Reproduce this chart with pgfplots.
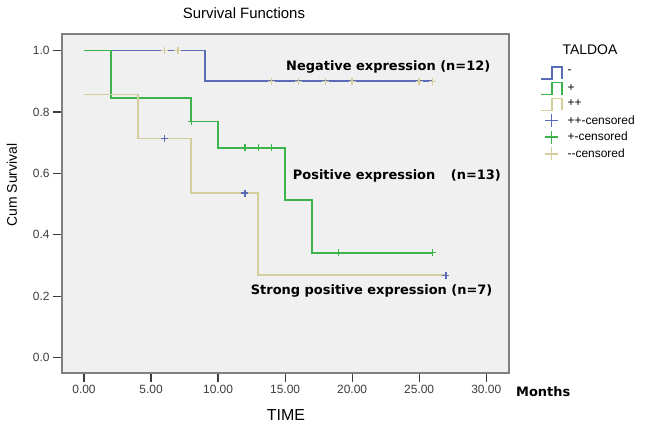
\documentclass[border=0pt]{standalone}
\usepackage{pgfplots}
\pgfplotsset{compat=1.18}
\usepackage{fontspec}
\setmainfont{Liberation Sans}
\newfontfamily\verd{DejaVu Sans}
\definecolor{cblue}{RGB}{90,108,184}
\definecolor{cgreen}{RGB}{60,180,75}
\definecolor{ctan}{RGB}{212,206,156}
\definecolor{bg}{RGB}{240,240,240}
\definecolor{framec}{RGB}{128,128,128}
\definecolor{tickc}{RGB}{60,60,60}
\pgfplotsset{
 stepimg/.style={legend image code/.code={\draw[#1,line width=1.4pt] (0bp,-6bp)--(11bp,-6bp)--(11bp,6bp)--(21bp,6bp)--(21bp,-6bp);}},
 crossimg/.style={legend image code/.code={\draw[#1,line width=1.4pt] (4bp,0bp)--(17bp,0bp) (10.5bp,-6.5bp)--(10.5bp,6.5bp);}},
}
\begin{document}
\begin{tikzpicture}
\useasboundingbox (0,0) rectangle (646bp,-429bp);
\begin{axis}[
 at={(62bp,-373bp)}, anchor=south west,
 scale only axis, width=447bp, height=339bp,
 xmin=-1.64, xmax=31.7, ymin=-0.05, ymax=1.054,
 axis background/.style={fill=bg},
 axis line style={draw=framec, line width=1.3pt},
 xtick={0,5,10,15,20,25,30}, ytick={0,0.2,0.4,0.6,0.8,1.0},
 xtick pos=lower, ytick pos=left,
 tick align=outside, major tick length=9bp,
 tick style={draw=tickc, line width=1.2pt},
 xticklabel style={/pgf/number format/fixed, /pgf/number format/fixed zerofill, /pgf/number format/precision=2, /pgf/number format/assume math mode=true},
 yticklabel style={/pgf/number format/fixed, /pgf/number format/fixed zerofill, /pgf/number format/precision=1, /pgf/number format/assume math mode=true},
 ticklabel style={font=\fontsize{12}{14}\selectfont, text=tickc},
 legend cell align=left,
 legend style={at={(1,1)}, anchor=north west, xshift=31bp, yshift=-32bp, draw=none, fill=none, font=\fontsize{12}{13}\selectfont, row sep=2.3bp, column sep=3bp, inner sep=0pt},
]
\addplot[color=cblue, line width=1.8pt, const plot, stepimg=cblue]
 coordinates {(0,1) (9,0.9) (26,0.9)};
\addlegendentry{-}
\addplot[color=cgreen, line width=1.8pt, const plot, stepimg=cgreen]
 coordinates {(0,1) (2,0.846) (8,0.769) (10,0.684) (15,0.513) (17,0.342) (26,0.342)};
\addlegendentry{+}
\addplot[color=ctan, line width=1.8pt, const plot, stepimg=ctan]
 coordinates {(0,0.857) (4,0.714) (8,0.536) (13,0.268) (27,0.268)};
\addlegendentry{++}
\addplot[color=cblue, only marks, mark=+, mark size=3.5bp, mark options={line width=1.4pt}, crossimg=cblue]
 coordinates {(6,0.714) (12,0.536) (27,0.268)};
\addlegendentry{++-censored}
\addplot[color=cgreen, only marks, mark=+, mark size=3.5bp, mark options={line width=1.4pt}, crossimg=cgreen]
 coordinates {(8,0.769) (12,0.684) (13,0.684) (14,0.684) (19,0.342) (26,0.342)};
\addlegendentry{+-censored}
\addplot[color=ctan, only marks, mark=+, mark size=3.5bp, mark options={line width=1.4pt}, crossimg=ctan]
 coordinates {(6,1) (7,1) (14,0.9) (16,0.9) (18,0.9) (20,0.9) (25,0.9) (26,0.9)};
\addlegendentry{-{}-censored}
\end{axis}
\node[font=\fontsize{15}{17}\selectfont] at (244bp,-13bp) {Survival Functions};
\node[font=\fontsize{14}{16}\selectfont] at (590bp,-50bp) {TALDOA};
\node[rotate=90, font=\fontsize{14}{16}\selectfont] at (12bp,-185bp) {Cum Survival};
\node[font=\fontsize{16}{18}\selectfont] at (286bp,-415bp) {TIME};
\node[anchor=west, inner sep=0pt, font=\verd\bfseries\fontsize{13}{15}\selectfont] at (286bp,-67bp) {Negative expression (n=12)};
\node[anchor=west, inner sep=0pt, font=\verd\bfseries\fontsize{13}{15}\selectfont] at (292.7bp,-175.7bp) {Positive expression\hspace{1.2em}(n=13)};
\node[anchor=west, inner sep=0pt, font=\verd\bfseries\fontsize{13}{15}\selectfont] at (250.7bp,-290.7bp) {Strong positive expression (n=7)};
\node[anchor=west, inner sep=0pt, font=\verd\bfseries\fontsize{13}{15}\selectfont] at (516bp,-392bp) {Months};
\end{tikzpicture}
\end{document}
